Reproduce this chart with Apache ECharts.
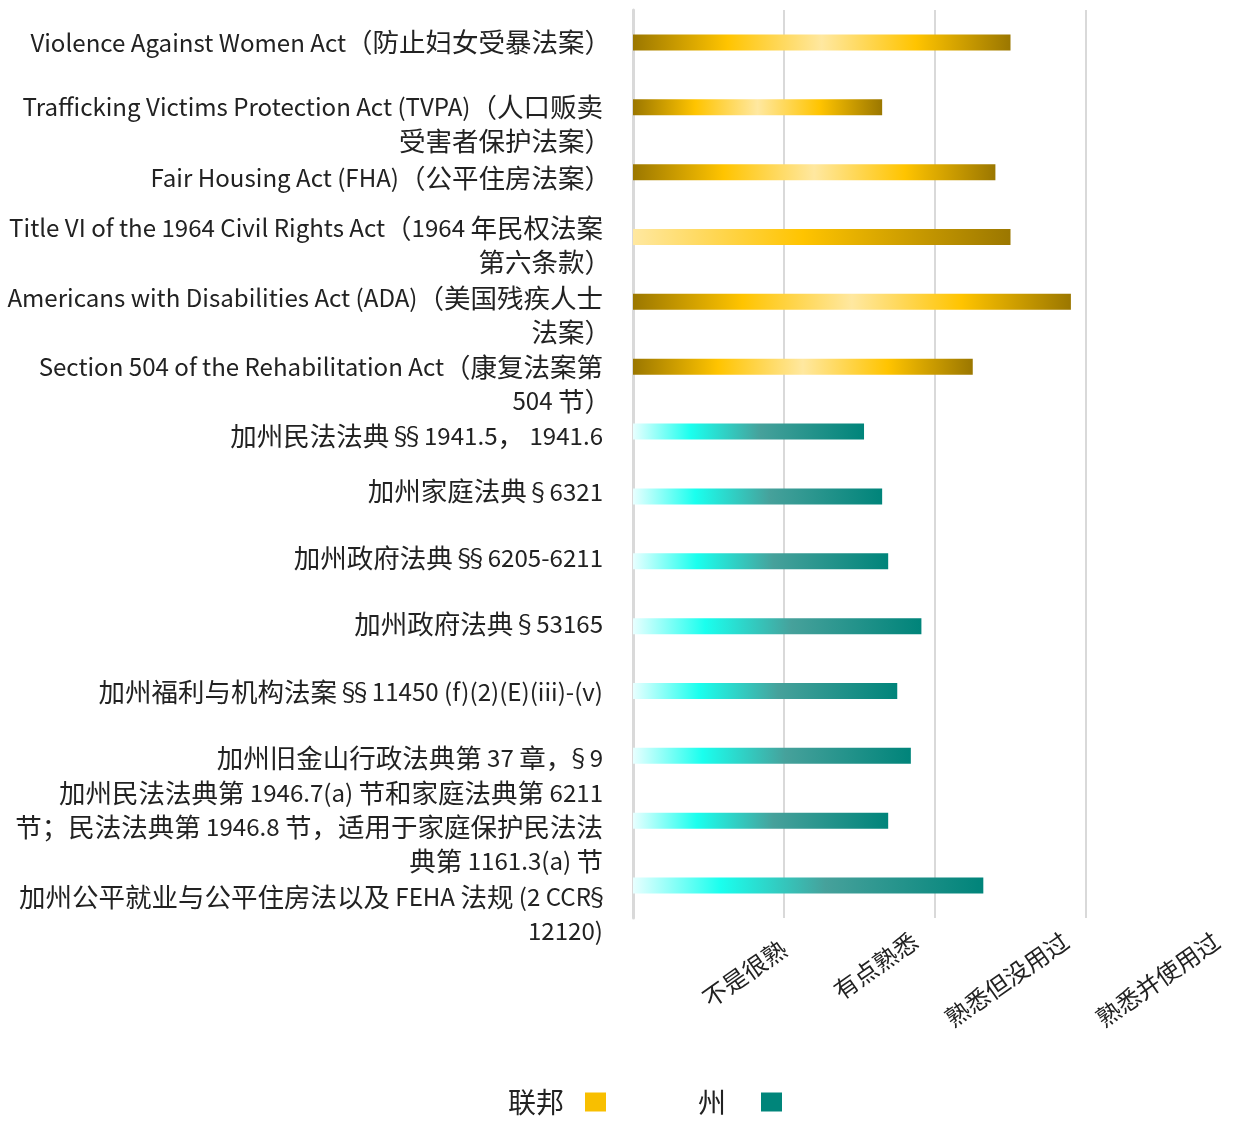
<!DOCTYPE html>
<html>
<head>
<meta charset="utf-8">
<script src="https://cdn.jsdelivr.net/npm/echarts@6/dist/echarts.min.js"></script>
<style>
    html, body { margin: 0; padding: 0; background: #fff; }
    #chart { width: 1234px; height: 1121px; }
</style>
</head>
<body>
<div id="chart"></div>
<script>
    // 类别（从上到下）
    const categories = [
        'Violence Against Women Act（防止妇女受暴法案）',
        'Trafficking Victims Protection Act (TVPA)（人口贩卖\n受害者保护法案）',
        'Fair Housing Act (FHA)（公平住房法案）',
        'Title VI of the 1964 Civil Rights Act（1964 年民权法案\n第六条款）',
        'Americans with Disabilities Act (ADA)（美国残疾人士\n法案）',
        'Section 504 of the Rehabilitation Act（康复法案第\n504 节）',
        '加州民法法典 §§ 1941.5， 1941.6',
        '加州家庭法典 § 6321',
        '加州政府法典 §§ 6205-6211',
        '加州政府法典 § 53165',
        '加州福利与机构法案 §§ 11450 (f)(2)(E)(iii)-(v)',
        '加州旧金山行政法典第 37 章，§ 9',
        '加州民法法典第 1946.7(a) 节和家庭法典第 6211\n节；民法法典第 1946.8 节，适用于家庭保护民法法\n典第 1161.3(a) 节',
        '加州公平就业与公平住房法以及 FEHA 法规 (2 CCR§\n12120)'
    ];
    const federalValues = [2.50, 1.65, 2.40, 2.50, 2.90, 2.25, '-', '-', '-', '-', '-', '-', '-', '-'];
    const stateValues = ['-', '-', '-', '-', '-', '-', 1.53, 1.65, 1.69, 1.91, 1.75, 1.84, 1.69, 2.32];
    const levelLabels = ['', '不是很熟', '有点熟悉', '熟悉但没用过', '熟悉并使用过'];

    // 标签的上下偏移（px，正数向下）
    const labelShift = [0, 17, 6, 8, 13, 17, 4, -5, -3, -2, 1, 2, 6, 28];

    const CJK_FONT = '"Noto Sans CJK SC", sans-serif';
    const TEXT_COLOR = '#222';

    const goldGrad = new echarts.graphic.LinearGradient(0, 0, 1, 0, [
        {offset: 0, color: '#9B7700'},
        {offset: 0.25, color: '#FFC400'},
        {offset: 0.5, color: '#FFE8A0'},
        {offset: 0.75, color: '#FFC400'},
        {offset: 1, color: '#9B7700'}
    ]);
    const goldGradHalf = new echarts.graphic.LinearGradient(0, 0, 1, 0, [
        {offset: 0, color: '#FFE8A0'},
        {offset: 0.45, color: '#FFC400'},
        {offset: 1, color: '#9B7700'}
    ]);
    const tealGrad = new echarts.graphic.LinearGradient(0, 0, 1, 0, [
        {offset: 0, color: '#E8FFFF'},
        {offset: 0.25, color: '#1AFFEE'},
        {offset: 0.55, color: '#46A19B'},
        {offset: 1, color: '#00847A'}
    ]);

    // 中文和西文分开排版（中文字号稍大）；§ 和行尾的全角括号收窄
    const CJK_RE = /([\u3000-\u303F\u4E00-\u9FFF\uFF00-\uFFEF]+)|(§)|([^\u3000-\u303F\u4E00-\u9FFF\uFF00-\uFFEF§]+)/g;
    function toRich(text) {
        return text.split('\n').map(line => {
            let tail = '';
            if (line.endsWith('）')) {
                line = line.slice(0, -1);
                tail = '{p|）}';
            }
            return line.replace(CJK_RE, (m, c, s, l) =>
                c ? '{c|' + c + '}' : s ? '{s|§}' : '{l|' + l + '}') + tail;
        }).join('\n');
    }

    const yData = categories.map((name, i) => {
        const s = labelShift[i];
        return {
            value: name,
            textStyle: {
                padding: s >= 0 ? [2 * s, 0, 0, 0] : [0, 0, -2 * s, 0]
            }
        };
    });

    const fedData = federalValues.map((v, i) => (i === 3 ? {value: v, itemStyle: {color: goldGradHalf}} : v));

    const chart = echarts.init(document.getElementById('chart'));
    chart.setOption({
        animation: false,
        backgroundColor: '#fff',
        textStyle: {fontFamily: CJK_FONT},
        grid: {left: 633, width: 604, top: 10, bottom: 203, containLabel: false, outerBoundsMode: 'none'},
        legend: {
            left: 503,
            top: 1083,
            align: 'right',
            icon: 'rect',
            itemWidth: 21,
            itemHeight: 19,
            itemGap: 92,
            textStyle: {fontSize: 28, color: TEXT_COLOR, fontFamily: CJK_FONT},
            data: [
                {name: '联邦', itemStyle: {color: '#F8BF00'}, textStyle: {padding: [0, 16, 0, 0]}},
                {name: '州', itemStyle: {color: '#00857A'}, textStyle: {padding: [0, 30, 0, 0]}}
            ]
        },
        xAxis: {
            type: 'value',
            min: 0,
            max: 4,
            interval: 1,
            axisLine: {show: false},
            axisTick: {show: false},
            splitLine: {lineStyle: {color: '#d9d9d9', width: 2}},
            axisLabel: {
                rotate: 35,
                margin: 28,
                fontSize: 24,
                color: TEXT_COLOR,
                fontFamily: CJK_FONT,
                formatter: v => (v === 1 ? '{a|' + levelLabels[v] + '}' : levelLabels[v] ? '{b|' + levelLabels[v] + '}' : ''),
                rich: {
                    a: {fontSize: 24, color: TEXT_COLOR},
                    b: {fontSize: 24, color: TEXT_COLOR, padding: [0, 12, 36, 0]}
                }
            }
        },
        yAxis: {
            type: 'category',
            inverse: true,
            data: yData,
            axisLine: {show: true, lineStyle: {color: '#d9d9d9', width: 3}},
            axisTick: {show: false},
            axisLabel: {
                interval: 0,
                showMinLabel: true,
                showMaxLabel: true,
                fontSize: 24,
                lineHeight: 34,
                color: TEXT_COLOR,
                margin: 30,
                align: 'right',
                verticalAlign: 'middle',
                formatter: v => toRich(v),
                rich: {
                    c: {fontFamily: CJK_FONT, fontSize: 26.5, lineHeight: 34, color: TEXT_COLOR},
                    p: {fontFamily: CJK_FONT, fontSize: 26.5, lineHeight: 34, color: TEXT_COLOR, padding: [0, -8, 0, 0]},
                    l: {fontFamily: CJK_FONT, fontSize: 24.1, lineHeight: 34, color: TEXT_COLOR},
                    s: {fontFamily: CJK_FONT, fontSize: 24, lineHeight: 34, color: TEXT_COLOR, padding: [0, -6, 0, -6]}
                }
            }
        },
        series: [
            {
                name: '联邦',
                type: 'bar',
                stack: 'all',
                barWidth: 16,
                itemStyle: {color: goldGrad},
                data: fedData
            },
            {
                name: '州',
                type: 'bar',
                stack: 'all',
                barWidth: 16,
                itemStyle: {color: tealGrad},
                data: stateValues
            }
        ]
    });
</script>
</body>
</html>
